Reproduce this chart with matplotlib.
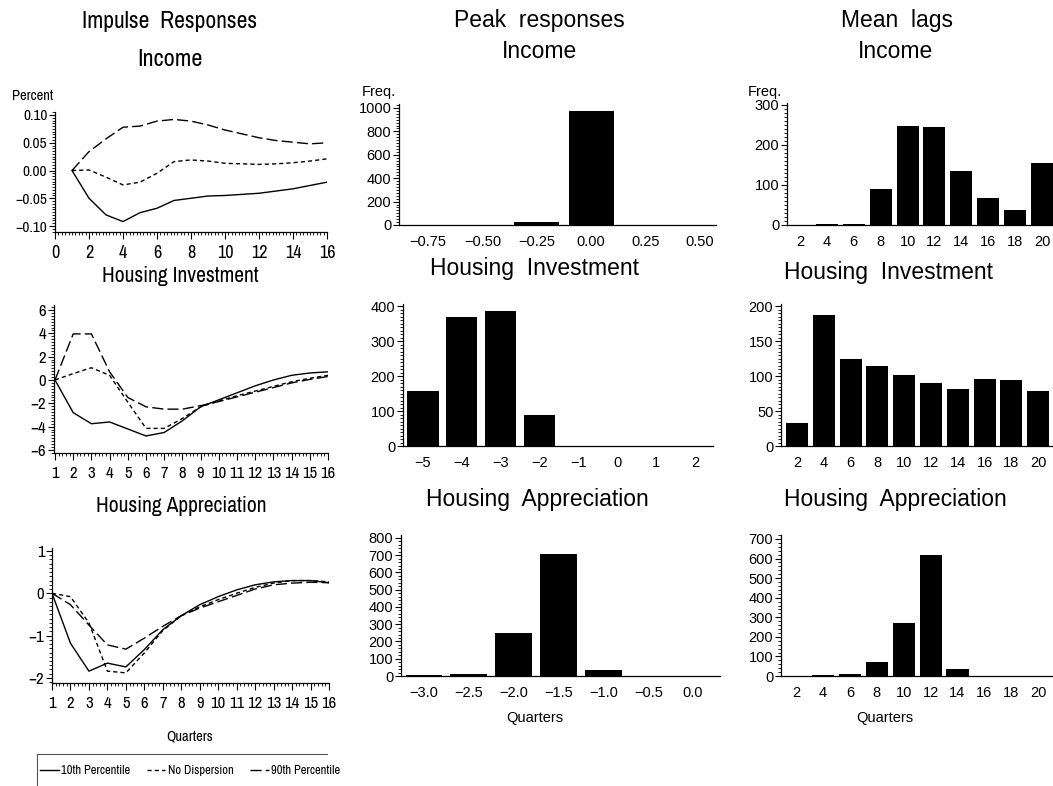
import numpy as np
import matplotlib
matplotlib.use("Agg")
import matplotlib.pyplot as plt
from matplotlib import font_manager
from matplotlib.ticker import MultipleLocator, FixedLocator
from matplotlib.lines import Line2D

# ---------------- data ----------------
quarters = np.arange(1, 17)

income_p10 = [0.0, -0.050, -0.080, -0.092, -0.076, -0.068, -0.054, -0.050,
              -0.046, -0.045, -0.043, -0.041, -0.037, -0.033, -0.027, -0.021]
income_nodisp = [0.0, 0.001, -0.012, -0.026, -0.021, -0.005, 0.016, 0.019,
                 0.017, 0.013, 0.012, 0.011, 0.012, 0.014, 0.017, 0.021]
income_p90 = [0.0, 0.034, 0.057, 0.078, 0.080, 0.089, 0.092, 0.089,
              0.082, 0.073, 0.066, 0.059, 0.054, 0.051, 0.048, 0.050]

hinv_p10 = [0.0, -2.8, -3.75, -3.6, -4.2, -4.8, -4.5, -3.5,
            -2.3, -1.7, -1.1, -0.5, 0.0, 0.4, 0.6, 0.7]
hinv_nodisp = [0.0, 0.55, 1.05, 0.4, -1.9, -4.15, -4.15, -3.3,
               -2.3, -1.8, -1.35, -0.95, -0.55, -0.15, 0.15, 0.4]
hinv_p90 = [0.0, 3.95, 3.95, 0.7, -1.5, -2.3, -2.5, -2.5,
            -2.2, -1.85, -1.45, -1.05, -0.65, -0.25, 0.05, 0.3]

happ_p10 = [0.0, -1.18, -1.84, -1.65, -1.74, -1.33, -0.86, -0.53,
            -0.27, -0.08, 0.08, 0.20, 0.27, 0.30, 0.30, 0.25]
happ_nodisp = [0.0, -0.08, -0.70, -1.84, -1.88, -1.41, -0.88, -0.53,
               -0.32, -0.15, 0.0, 0.14, 0.24, 0.30, 0.30, 0.27]
happ_p90 = [0.0, -0.27, -0.75, -1.22, -1.32, -1.06, -0.78, -0.53,
            -0.35, -0.20, -0.05, 0.10, 0.20, 0.24, 0.26, 0.25]

peak_income_bins = [-0.75, -0.50, -0.25, 0.00, 0.25, 0.50]
peak_income_freq = [0, 0, 28, 972, 0, 0]
peak_hinv_bins = [-5, -4, -3, -2, -1, 0, 1, 2]
peak_hinv_freq = [157, 369, 386, 88, 0, 0, 0, 0]
peak_happ_bins = [-3.0, -2.5, -2.0, -1.5, -1.0, -0.5, 0.0]
peak_happ_freq = [5, 12, 247, 705, 35, 0, 0]

lag_bins = [2, 4, 6, 8, 10, 12, 14, 16, 18, 20]
lag_income_freq = [0, 2, 2, 91, 248, 245, 135, 68, 38, 156]
lag_hinv_freq = [33, 187, 124, 114, 101, 90, 82, 96, 94, 79]
lag_happ_freq = [0, 4, 11, 74, 271, 617, 34, 0, 0, 0]

legend_labels = ["10th Percentile", "No Dispersion", "90th Percentile"]

# ---------------- fonts ----------------
installed = {f.name for f in font_manager.fontManager.ttflist}


def pick(candidates, fallback):
    for name in candidates:
        if name in installed:
            return [name, "DejaVu Sans"]
    return [fallback, "DejaVu Sans"]


NARROW = pick(["Liberation Sans Narrow", "Arial Narrow", "Archivo Narrow",
               "Roboto Condensed", "Pragati Narrow", "PT Sans Narrow",
               "Open Sans Condensed", "Fira Sans Condensed"], "DejaVu Sans")
SANS = pick(["Liberation Sans", "Arimo", "Arial"], "DejaVu Sans")

# ---------------- styling ----------------
W, H = 1053, 786
SOLID = "-"
SHORT = (0, (3.0, 2.2))
LONG = (0, (8.0, 3.0))
LW = 1.0

fig = plt.figure(figsize=(W / 100, H / 100), dpi=100)
fig.patch.set_facecolor("white")


def add_ax(x0, y0, x1, y1):
    """Axes placed by pixel box (left, top, right, bottom)."""
    return fig.add_axes([x0 / W, 1 - y1 / H, (x1 - x0) / W, (y1 - y0) / H])


def ftext(x, y, s, size, family, ha="center", va="center"):
    fig.text(x / W, 1 - y / H, s, fontsize=size, family=family, ha=ha, va=va)


def style_axes(ax, family, xsize, ysize):
    for side in ("top", "right"):
        ax.spines[side].set_visible(False)
    for side in ("left", "bottom"):
        ax.spines[side].set_linewidth(0.9)
    ax.tick_params(axis="y", which="major", direction="out", length=4, width=0.8,
                   labelsize=ysize, labelfontfamily=family, pad=1.5)
    ax.tick_params(axis="y", which="minor", direction="out", length=2, width=0.6)
    ax.tick_params(axis="x", labelsize=xsize, labelfontfamily=family)


# ---------------- impulse responses (left column) ----------------
def irf_panel(box, xlim, ylim, p10, nod, p90, xmajor, ymajor, yminor,
              xsize, ysize, xminor=0.2):
    ax = add_ax(*box)
    ax.plot(quarters, p10, color="black", lw=LW, ls=SOLID)
    ax.plot(quarters, nod, color="black", lw=LW, ls=SHORT)
    ax.plot(quarters, p90, color="black", lw=LW, ls=LONG)
    ax.set_xlim(*xlim)
    ax.set_ylim(*ylim)
    ax.xaxis.set_major_locator(FixedLocator(xmajor))
    ax.xaxis.set_minor_locator(MultipleLocator(xminor))
    ax.yaxis.set_major_locator(FixedLocator(ymajor))
    ax.yaxis.set_minor_locator(MultipleLocator(yminor))
    style_axes(ax, NARROW, xsize, ysize)
    ax.tick_params(axis="x", which="major", direction="out", length=5, width=0.8, pad=4)
    ax.tick_params(axis="x", which="minor", direction="out", length=2.5, width=0.6)
    return ax

ax = irf_panel((55, 112, 327, 232), (0, 16), (-0.1108, 0.1054),
               income_p10, income_nodisp, income_p90,
               list(range(0, 17, 2)), [-0.10, -0.05, 0.0, 0.05, 0.10], 0.005, 13, 11)
ax.yaxis.set_major_formatter(plt.FuncFormatter(
    lambda v, p: ("\u2212" if v < -1e-9 else "") + f"{abs(v):.2f}"))

ax = irf_panel((54, 305, 328, 453), (0.945, 16), (-6.26, 6.43),
               hinv_p10, hinv_nodisp, hinv_p90,
               list(range(1, 17)), [-6, -4, -2, 0, 2, 4, 6], 0.25, 12, 12)

ax = irf_panel((52, 548, 329, 683), (1, 16), (-2.12, 1.07),
               happ_p10, happ_nodisp, happ_p90,
               list(range(1, 17)), [-2, -1, 0, 1], 0.1, 12, 12)

ftext(170, 21, "Impulse  Responses", 17, NARROW)
ftext(170, 60, "Income", 17.5, NARROW)
ftext(180, 276, "Housing Investment", 15.5, NARROW)
ftext(181, 506, "Housing Appreciation", 15.5, NARROW)
ftext(12, 96, "Percent", 10.5, NARROW, ha="left")
ftext(190, 736, "Quarters", 10.5, NARROW)

# legend below the impulse responses
handles = [Line2D([], [], color="black", lw=LW, ls=SOLID),
           Line2D([], [], color="black", lw=LW, ls=SHORT),
           Line2D([], [], color="black", lw=LW, ls=LONG)]
fig.legend(handles, legend_labels, loc="center left",
           bbox_to_anchor=(40 / W, 1 - 771 / H), ncol=3, frameon=False,
           prop={"family": NARROW, "size": 9}, handlelength=1.5,
           handletextpad=0.2, columnspacing=1.3, borderpad=0, borderaxespad=0)
fig.add_artist(Line2D([37 / W, 327 / W], [1 - 754 / H, 1 - 754 / H],
                      color="#555555", lw=0.8))
fig.add_artist(Line2D([37 / W, 37 / W], [1 - 754 / H, 0], color="#555555", lw=0.8))


# ---------------- histograms (middle and right columns) ----------------
def hist_panel(box, xlim, ylim, bins, freq, width, yticks, yminor, labels=None):
    ax = add_ax(*box)
    ax.bar(bins, freq, width=width, color="black", linewidth=0)
    ax.set_xlim(*xlim)
    ax.set_ylim(*ylim)
    ax.set_xticks(bins)
    if labels is not None:
        ax.set_xticklabels(labels)
    ax.yaxis.set_major_locator(FixedLocator(yticks))
    ax.yaxis.set_minor_locator(MultipleLocator(yminor))
    style_axes(ax, SANS, 10.5, 10.5)
    ax.tick_params(axis="x", which="both", length=0, pad=7)
    return ax

def fmt_signed(vals, nd):
    out = []
    for v in vals:
        s = f"{abs(v):.{nd}f}"
        out.append(("\u2212" + s) if v < 0 else s)
    return out

hist_panel((399, 104, 716, 225), (-0.883, 0.574), (0, 1034),
           peak_income_bins, peak_income_freq, 0.207,
           [0, 200, 400, 600, 800, 1000], 25, fmt_signed(peak_income_bins, 2))
hist_panel((403, 304, 713, 446), (-5.515, 2.46), (0, 406),
           peak_hinv_bins, peak_hinv_freq, 0.80,
           [0, 100, 200, 300, 400], 10, fmt_signed(peak_hinv_bins, 0))
hist_panel((401, 535, 720, 676), (-3.256, 0.30), (0, 817),
           peak_happ_bins, peak_happ_freq, 0.41,
           list(range(0, 801, 100)), 20, fmt_signed(peak_happ_bins, 1))

hist_panel((787, 103, 1053, 225), (1.03, 20.82), (0, 305),
           lag_bins, lag_income_freq, 1.64, [0, 100, 200, 300], 10)
hist_panel((781, 304, 1053, 446), (0.805, 21.1), (0, 203),
           lag_bins, lag_hinv_freq, 1.64, [0, 50, 100, 150, 200], 5)
hist_panel((781, 535, 1053, 676), (0.884, 21.1), (0, 720),
           lag_bins, lag_happ_freq, 1.64, list(range(0, 701, 100)), 20)

ftext(539, 21, "Peak  responses", 16.5, SANS)
ftext(539, 52, "Income", 16.5, SANS)
ftext(535, 268, "Housing  Investment", 16.5, SANS)
ftext(537, 499, "Housing  Appreciation", 16.5, SANS)
ftext(897, 21, "Mean  lags", 16.5, SANS)
ftext(895, 52, "Income", 16.5, SANS)
ftext(888, 272, "Housing  Investment", 16.5, SANS)
ftext(895, 499, "Housing  Appreciation", 16.5, SANS)
ftext(362, 92, "Freq.", 10.5, SANS, ha="left")
ftext(748, 92, "Freq.", 10.5, SANS, ha="left")
ftext(535, 718, "Quarters", 10.5, SANS)
ftext(885, 718, "Quarters", 10.5, SANS)

fig.savefig("out.png", dpi=100, facecolor="white")
